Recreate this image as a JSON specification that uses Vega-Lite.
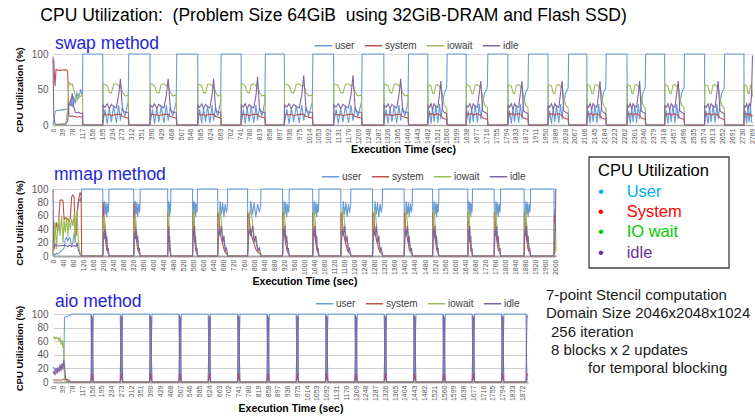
{
"$schema": "https://vega.github.io/schema/vega-lite/v6.json",
"background": "white",
"padding": {"left": 14, "top": 7, "right": 0, "bottom": 0},
"title": {"text": "CPU Utilization:\u00a0 (Problem Size 64GiB\u00a0 using 32GiB-DRAM and Flash SSD)", "anchor": "start", "frame": "bounds", "fontSize": 17.5, "fontWeight": "normal", "color": "#000000", "dx": 26, "offset": 10},
"config": {"view": {"stroke": null}, "font": "Liberation Sans"},
"resolve": {"scale": {"color": "independent"}, "legend": {"color": "independent"}},
"datasets": {
"swap": [
{"t":0,"user":0,"system":88,"iowait":0,"idle":96},
{"t":3,"user":6,"system":90,"iowait":0,"idle":12},
{"t":8,"user":18,"system":55,"iowait":0,"idle":2},
{"t":12,"user":20,"system":78,"iowait":0,"idle":1},
{"t":30,"user":21,"system":77,"iowait":1,"idle":1},
{"t":50,"user":22,"system":78,"iowait":2,"idle":1},
{"t":58,"user":23,"system":76,"iowait":20,"idle":5},
{"t":63,"user":30,"system":13,"iowait":60,"idle":30},
{"t":70,"user":35,"system":12,"iowait":57,"idle":28},
{"t":76,"user":25,"system":13,"iowait":58,"idle":45},
{"t":82,"user":40,"system":12,"iowait":50,"idle":26},
{"t":88,"user":30,"system":12,"iowait":42,"idle":18},
{"t":95,"user":45,"system":11,"iowait":35,"idle":17},
{"t":102,"user":38,"system":12,"iowait":43,"idle":18},
{"t":110,"user":50,"system":11,"iowait":40,"idle":16},
{"t":117,"user":40,"system":12,"iowait":42,"idle":17},
{"t":118,"user":100,"system":0,"iowait":0,"idle":0},
{"t":197,"user":100,"system":0,"iowait":0,"idle":0},
{"t":198,"user":3,"system":14,"iowait":58,"idle":28},
{"t":206,"user":22,"system":15,"iowait":57,"idle":25},
{"t":215,"user":2,"system":14,"iowait":55,"idle":30},
{"t":223,"user":24,"system":15,"iowait":46,"idle":23},
{"t":231,"user":4,"system":13,"iowait":45,"idle":29},
{"t":240,"user":27,"system":14,"iowait":57,"idle":26},
{"t":251,"user":3,"system":15,"iowait":58,"idle":24},
{"t":260,"user":28,"system":15,"iowait":55,"idle":42},
{"t":267,"user":6,"system":15,"iowait":56,"idle":65},
{"t":275,"user":25,"system":12,"iowait":46,"idle":21},
{"t":285,"user":12,"system":11,"iowait":41,"idle":18},
{"t":298,"user":33,"system":10,"iowait":42,"idle":18},
{"t":300,"user":100,"system":0,"iowait":0,"idle":0},
{"t":384,"user":100,"system":0,"iowait":0,"idle":0},
{"t":385,"user":3,"system":14,"iowait":58,"idle":28},
{"t":394,"user":22,"system":15,"iowait":57,"idle":25},
{"t":402,"user":2,"system":14,"iowait":55,"idle":30},
{"t":411,"user":24,"system":15,"iowait":46,"idle":23},
{"t":419,"user":4,"system":13,"iowait":45,"idle":29},
{"t":429,"user":27,"system":14,"iowait":57,"idle":26},
{"t":439,"user":3,"system":15,"iowait":58,"idle":24},
{"t":449,"user":28,"system":15,"iowait":55,"idle":42},
{"t":456,"user":6,"system":15,"iowait":56,"idle":65},
{"t":465,"user":25,"system":12,"iowait":46,"idle":21},
{"t":474,"user":12,"system":11,"iowait":41,"idle":18},
{"t":488,"user":33,"system":10,"iowait":42,"idle":18},
{"t":490,"user":100,"system":0,"iowait":0,"idle":0},
{"t":573,"user":100,"system":0,"iowait":0,"idle":0},
{"t":574,"user":3,"system":14,"iowait":58,"idle":28},
{"t":581,"user":22,"system":15,"iowait":57,"idle":25},
{"t":589,"user":2,"system":14,"iowait":55,"idle":30},
{"t":596,"user":24,"system":15,"iowait":46,"idle":23},
{"t":604,"user":4,"system":13,"iowait":45,"idle":29},
{"t":612,"user":27,"system":14,"iowait":57,"idle":26},
{"t":621,"user":3,"system":15,"iowait":58,"idle":24},
{"t":630,"user":28,"system":15,"iowait":55,"idle":42},
{"t":636,"user":6,"system":15,"iowait":56,"idle":65},
{"t":644,"user":25,"system":12,"iowait":46,"idle":21},
{"t":652,"user":12,"system":11,"iowait":41,"idle":18},
{"t":664,"user":33,"system":10,"iowait":42,"idle":18},
{"t":666,"user":100,"system":0,"iowait":0,"idle":0},
{"t":745,"user":100,"system":0,"iowait":0,"idle":0},
{"t":746,"user":3,"system":14,"iowait":58,"idle":28},
{"t":754,"user":22,"system":15,"iowait":57,"idle":25},
{"t":761,"user":2,"system":14,"iowait":55,"idle":30},
{"t":769,"user":24,"system":15,"iowait":46,"idle":23},
{"t":777,"user":4,"system":13,"iowait":45,"idle":29},
{"t":785,"user":27,"system":14,"iowait":57,"idle":26},
{"t":795,"user":3,"system":15,"iowait":58,"idle":24},
{"t":804,"user":28,"system":15,"iowait":55,"idle":42},
{"t":810,"user":6,"system":15,"iowait":56,"idle":68},
{"t":818,"user":25,"system":12,"iowait":46,"idle":21},
{"t":827,"user":12,"system":11,"iowait":41,"idle":18},
{"t":839,"user":33,"system":10,"iowait":42,"idle":18},
{"t":841,"user":100,"system":0,"iowait":0,"idle":0},
{"t":916,"user":100,"system":0,"iowait":0,"idle":0},
{"t":917,"user":3,"system":14,"iowait":58,"idle":28},
{"t":926,"user":22,"system":15,"iowait":57,"idle":25},
{"t":935,"user":2,"system":14,"iowait":55,"idle":30},
{"t":944,"user":24,"system":15,"iowait":46,"idle":23},
{"t":953,"user":4,"system":13,"iowait":45,"idle":29},
{"t":963,"user":27,"system":14,"iowait":57,"idle":26},
{"t":975,"user":3,"system":15,"iowait":58,"idle":24},
{"t":985,"user":28,"system":15,"iowait":55,"idle":42},
{"t":993,"user":6,"system":15,"iowait":56,"idle":70},
{"t":1002,"user":25,"system":12,"iowait":46,"idle":21},
{"t":1012,"user":12,"system":11,"iowait":41,"idle":18},
{"t":1027,"user":33,"system":10,"iowait":42,"idle":18},
{"t":1029,"user":100,"system":0,"iowait":0,"idle":0},
{"t":1111,"user":100,"system":0,"iowait":0,"idle":0},
{"t":1112,"user":3,"system":14,"iowait":58,"idle":28},
{"t":1121,"user":22,"system":15,"iowait":57,"idle":25},
{"t":1130,"user":2,"system":14,"iowait":55,"idle":30},
{"t":1139,"user":24,"system":15,"iowait":46,"idle":23},
{"t":1148,"user":4,"system":13,"iowait":45,"idle":29},
{"t":1158,"user":27,"system":14,"iowait":57,"idle":26},
{"t":1170,"user":3,"system":15,"iowait":58,"idle":24},
{"t":1180,"user":28,"system":15,"iowait":55,"idle":42},
{"t":1188,"user":6,"system":15,"iowait":56,"idle":70},
{"t":1197,"user":25,"system":12,"iowait":46,"idle":21},
{"t":1207,"user":12,"system":11,"iowait":41,"idle":18},
{"t":1222,"user":33,"system":10,"iowait":42,"idle":18},
{"t":1224,"user":100,"system":0,"iowait":0,"idle":0},
{"t":1310,"user":100,"system":0,"iowait":0,"idle":0},
{"t":1311,"user":3,"system":14,"iowait":58,"idle":28},
{"t":1319,"user":22,"system":15,"iowait":57,"idle":25},
{"t":1327,"user":2,"system":14,"iowait":55,"idle":30},
{"t":1335,"user":24,"system":15,"iowait":46,"idle":23},
{"t":1342,"user":4,"system":13,"iowait":45,"idle":29},
{"t":1351,"user":27,"system":14,"iowait":57,"idle":26},
{"t":1361,"user":3,"system":15,"iowait":58,"idle":24},
{"t":1370,"user":28,"system":15,"iowait":55,"idle":42},
{"t":1377,"user":6,"system":15,"iowait":56,"idle":65},
{"t":1384,"user":25,"system":12,"iowait":46,"idle":21},
{"t":1393,"user":12,"system":11,"iowait":41,"idle":18},
{"t":1406,"user":33,"system":10,"iowait":42,"idle":18},
{"t":1408,"user":100,"system":0,"iowait":0,"idle":0},
{"t":1484,"user":100,"system":0,"iowait":0,"idle":0},
{"t":1485,"user":3,"system":15,"iowait":57,"idle":27},
{"t":1491,"user":20,"system":16,"iowait":56,"idle":25},
{"t":1497,"user":2,"system":15,"iowait":55,"idle":30},
{"t":1503,"user":25,"system":16,"iowait":45,"idle":22},
{"t":1509,"user":4,"system":14,"iowait":44,"idle":30},
{"t":1516,"user":28,"system":15,"iowait":56,"idle":26},
{"t":1524,"user":3,"system":16,"iowait":57,"idle":25},
{"t":1531,"user":30,"system":14,"iowait":54,"idle":45},
{"t":1536,"user":8,"system":14,"iowait":55,"idle":62},
{"t":1543,"user":30,"system":10,"iowait":40,"idle":20},
{"t":1549,"user":45,"system":9,"iowait":28,"idle":18},
{"t":1559,"user":52,"system":8,"iowait":24,"idle":16},
{"t":1561,"user":100,"system":0,"iowait":0,"idle":0},
{"t":1636,"user":100,"system":0,"iowait":0,"idle":0},
{"t":1637,"user":3,"system":15,"iowait":57,"idle":27},
{"t":1644,"user":20,"system":16,"iowait":56,"idle":25},
{"t":1651,"user":2,"system":15,"iowait":55,"idle":30},
{"t":1658,"user":25,"system":16,"iowait":45,"idle":22},
{"t":1664,"user":4,"system":14,"iowait":44,"idle":30},
{"t":1672,"user":28,"system":15,"iowait":56,"idle":26},
{"t":1681,"user":3,"system":16,"iowait":57,"idle":25},
{"t":1688,"user":30,"system":14,"iowait":54,"idle":45},
{"t":1694,"user":8,"system":14,"iowait":55,"idle":62},
{"t":1701,"user":30,"system":10,"iowait":40,"idle":20},
{"t":1709,"user":45,"system":9,"iowait":28,"idle":18},
{"t":1720,"user":52,"system":8,"iowait":24,"idle":16},
{"t":1722,"user":100,"system":0,"iowait":0,"idle":0},
{"t":1801,"user":100,"system":0,"iowait":0,"idle":0},
{"t":1802,"user":3,"system":15,"iowait":57,"idle":27},
{"t":1808,"user":20,"system":16,"iowait":56,"idle":25},
{"t":1815,"user":2,"system":15,"iowait":55,"idle":30},
{"t":1822,"user":25,"system":16,"iowait":45,"idle":22},
{"t":1828,"user":4,"system":14,"iowait":44,"idle":30},
{"t":1835,"user":28,"system":15,"iowait":56,"idle":26},
{"t":1844,"user":3,"system":16,"iowait":57,"idle":25},
{"t":1851,"user":30,"system":14,"iowait":54,"idle":45},
{"t":1857,"user":8,"system":14,"iowait":55,"idle":62},
{"t":1863,"user":30,"system":10,"iowait":40,"idle":20},
{"t":1871,"user":45,"system":9,"iowait":28,"idle":18},
{"t":1881,"user":52,"system":8,"iowait":24,"idle":16},
{"t":1883,"user":100,"system":0,"iowait":0,"idle":0},
{"t":1960,"user":100,"system":0,"iowait":0,"idle":0},
{"t":1961,"user":3,"system":15,"iowait":57,"idle":27},
{"t":1967,"user":20,"system":16,"iowait":56,"idle":25},
{"t":1974,"user":2,"system":15,"iowait":55,"idle":30},
{"t":1981,"user":25,"system":16,"iowait":45,"idle":22},
{"t":1987,"user":4,"system":14,"iowait":44,"idle":30},
{"t":1994,"user":28,"system":15,"iowait":56,"idle":26},
{"t":2003,"user":3,"system":16,"iowait":57,"idle":25},
{"t":2010,"user":30,"system":14,"iowait":54,"idle":45},
{"t":2016,"user":8,"system":14,"iowait":55,"idle":62},
{"t":2022,"user":30,"system":10,"iowait":40,"idle":20},
{"t":2030,"user":45,"system":9,"iowait":28,"idle":18},
{"t":2040,"user":52,"system":8,"iowait":24,"idle":16},
{"t":2042,"user":100,"system":0,"iowait":0,"idle":0},
{"t":2114,"user":100,"system":0,"iowait":0,"idle":0},
{"t":2115,"user":3,"system":15,"iowait":57,"idle":27},
{"t":2121,"user":20,"system":16,"iowait":56,"idle":25},
{"t":2127,"user":2,"system":15,"iowait":55,"idle":30},
{"t":2133,"user":25,"system":16,"iowait":45,"idle":22},
{"t":2139,"user":4,"system":14,"iowait":44,"idle":30},
{"t":2146,"user":28,"system":15,"iowait":56,"idle":26},
{"t":2154,"user":3,"system":16,"iowait":57,"idle":25},
{"t":2161,"user":30,"system":14,"iowait":54,"idle":45},
{"t":2166,"user":8,"system":14,"iowait":55,"idle":62},
{"t":2173,"user":30,"system":10,"iowait":40,"idle":20},
{"t":2179,"user":45,"system":9,"iowait":28,"idle":18},
{"t":2189,"user":52,"system":8,"iowait":24,"idle":16},
{"t":2191,"user":100,"system":0,"iowait":0,"idle":0},
{"t":2273,"user":100,"system":0,"iowait":0,"idle":0},
{"t":2274,"user":3,"system":15,"iowait":57,"idle":27},
{"t":2280,"user":20,"system":16,"iowait":56,"idle":25},
{"t":2286,"user":2,"system":15,"iowait":55,"idle":30},
{"t":2292,"user":25,"system":16,"iowait":45,"idle":22},
{"t":2297,"user":4,"system":14,"iowait":44,"idle":30},
{"t":2304,"user":28,"system":15,"iowait":56,"idle":26},
{"t":2311,"user":3,"system":16,"iowait":57,"idle":25},
{"t":2318,"user":30,"system":14,"iowait":54,"idle":45},
{"t":2323,"user":8,"system":14,"iowait":55,"idle":62},
{"t":2329,"user":30,"system":10,"iowait":40,"idle":20},
{"t":2336,"user":45,"system":9,"iowait":28,"idle":18},
{"t":2345,"user":52,"system":8,"iowait":24,"idle":16},
{"t":2347,"user":100,"system":0,"iowait":0,"idle":0},
{"t":2422,"user":100,"system":0,"iowait":0,"idle":0},
{"t":2423,"user":3,"system":15,"iowait":57,"idle":27},
{"t":2429,"user":20,"system":16,"iowait":56,"idle":25},
{"t":2435,"user":2,"system":15,"iowait":55,"idle":30},
{"t":2442,"user":25,"system":16,"iowait":45,"idle":22},
{"t":2448,"user":4,"system":14,"iowait":44,"idle":30},
{"t":2455,"user":28,"system":15,"iowait":56,"idle":26},
{"t":2463,"user":3,"system":16,"iowait":57,"idle":25},
{"t":2470,"user":30,"system":14,"iowait":54,"idle":45},
{"t":2476,"user":8,"system":14,"iowait":55,"idle":62},
{"t":2482,"user":30,"system":10,"iowait":40,"idle":20},
{"t":2489,"user":45,"system":9,"iowait":28,"idle":18},
{"t":2499,"user":52,"system":8,"iowait":24,"idle":16},
{"t":2501,"user":100,"system":0,"iowait":0,"idle":0},
{"t":2580,"user":100,"system":0,"iowait":0,"idle":0},
{"t":2581,"user":3,"system":15,"iowait":57,"idle":27},
{"t":2587,"user":20,"system":16,"iowait":56,"idle":25},
{"t":2594,"user":2,"system":15,"iowait":55,"idle":30},
{"t":2600,"user":25,"system":16,"iowait":45,"idle":22},
{"t":2606,"user":4,"system":14,"iowait":44,"idle":30},
{"t":2614,"user":28,"system":15,"iowait":56,"idle":26},
{"t":2622,"user":3,"system":16,"iowait":57,"idle":25},
{"t":2629,"user":30,"system":14,"iowait":54,"idle":45},
{"t":2634,"user":8,"system":14,"iowait":55,"idle":62},
{"t":2641,"user":30,"system":10,"iowait":40,"idle":20},
{"t":2648,"user":45,"system":9,"iowait":28,"idle":18},
{"t":2658,"user":52,"system":8,"iowait":24,"idle":16},
{"t":2660,"user":100,"system":0,"iowait":0,"idle":0},
{"t":2736,"user":100,"system":0,"iowait":0,"idle":0},
{"t":2737,"user":3,"system":15,"iowait":57,"idle":27},
{"t":2742,"user":20,"system":16,"iowait":56,"idle":25},
{"t":2747,"user":2,"system":15,"iowait":55,"idle":30},
{"t":2752,"user":25,"system":16,"iowait":45,"idle":22},
{"t":2757,"user":4,"system":14,"iowait":44,"idle":30},
{"t":2762,"user":28,"system":15,"iowait":56,"idle":26},
{"t":2766,"user":5,"system":12,"iowait":55,"idle":40},
{"t":2770,"user":3,"system":14,"iowait":40,"idle":98}
],
"mmap": [
{"t":0,"user":0,"system":0,"iowait":0,"idle":100},
{"t":2,"user":0,"system":52,"iowait":55,"idle":30},
{"t":5,"user":3,"system":45,"iowait":20,"idle":10},
{"t":9,"user":2,"system":40,"iowait":50,"idle":17},
{"t":14,"user":4,"system":50,"iowait":10,"idle":16},
{"t":19,"user":3,"system":35,"iowait":45,"idle":15},
{"t":24,"user":5,"system":60,"iowait":55,"idle":15},
{"t":28,"user":6,"system":83,"iowait":30,"idle":16},
{"t":34,"user":8,"system":84,"iowait":60,"idle":15},
{"t":40,"user":10,"system":82,"iowait":20,"idle":16},
{"t":44,"user":12,"system":55,"iowait":55,"idle":15},
{"t":49,"user":25,"system":57,"iowait":35,"idle":16},
{"t":54,"user":28,"system":54,"iowait":58,"idle":15},
{"t":59,"user":22,"system":56,"iowait":30,"idle":14},
{"t":64,"user":28,"system":50,"iowait":55,"idle":16},
{"t":69,"user":25,"system":57,"iowait":40,"idle":15},
{"t":74,"user":15,"system":88,"iowait":55,"idle":14},
{"t":79,"user":20,"system":91,"iowait":45,"idle":15},
{"t":84,"user":35,"system":88,"iowait":62,"idle":16},
{"t":88,"user":20,"system":40,"iowait":20,"idle":15},
{"t":92,"user":40,"system":30,"iowait":55,"idle":14},
{"t":96,"user":60,"system":60,"iowait":70,"idle":20},
{"t":100,"user":78,"system":80,"iowait":30,"idle":10},
{"t":104,"user":82,"system":88,"iowait":10,"idle":5},
{"t":108,"user":85,"system":95,"iowait":5,"idle":2},
{"t":112,"user":80,"system":90,"iowait":3,"idle":1},
{"t":114,"user":100,"system":0,"iowait":0,"idle":0},
{"t":198,"user":100,"system":0,"iowait":0,"idle":0},
{"t":199,"user":3,"system":80,"iowait":15,"idle":10},
{"t":201,"user":45,"system":65,"iowait":55,"idle":35},
{"t":204,"user":82,"system":40,"iowait":60,"idle":25},
{"t":208,"user":62,"system":28,"iowait":45,"idle":40},
{"t":211,"user":80,"system":18,"iowait":30,"idle":20},
{"t":214,"user":58,"system":10,"iowait":22,"idle":30},
{"t":217,"user":78,"system":6,"iowait":12,"idle":8},
{"t":220,"user":65,"system":4,"iowait":6,"idle":12},
{"t":222,"user":75,"system":2,"iowait":3,"idle":3},
{"t":223,"user":100,"system":0,"iowait":0,"idle":0},
{"t":321,"user":100,"system":0,"iowait":0,"idle":0},
{"t":322,"user":3,"system":80,"iowait":15,"idle":10},
{"t":324,"user":45,"system":65,"iowait":55,"idle":35},
{"t":328,"user":82,"system":40,"iowait":60,"idle":25},
{"t":331,"user":62,"system":28,"iowait":45,"idle":40},
{"t":334,"user":80,"system":18,"iowait":30,"idle":20},
{"t":337,"user":58,"system":10,"iowait":22,"idle":30},
{"t":341,"user":78,"system":6,"iowait":12,"idle":8},
{"t":344,"user":65,"system":4,"iowait":6,"idle":12},
{"t":346,"user":75,"system":2,"iowait":3,"idle":3},
{"t":347,"user":100,"system":0,"iowait":0,"idle":0},
{"t":456,"user":100,"system":0,"iowait":0,"idle":0},
{"t":457,"user":3,"system":65,"iowait":20,"idle":12},
{"t":458,"user":45,"system":55,"iowait":60,"idle":40},
{"t":459,"user":82,"system":35,"iowait":70,"idle":30},
{"t":461,"user":62,"system":25,"iowait":50,"idle":45},
{"t":462,"user":80,"system":18,"iowait":30,"idle":20},
{"t":464,"user":58,"system":10,"iowait":22,"idle":30},
{"t":466,"user":78,"system":6,"iowait":12,"idle":8},
{"t":467,"user":65,"system":4,"iowait":6,"idle":12},
{"t":468,"user":75,"system":2,"iowait":3,"idle":3},
{"t":469,"user":100,"system":0,"iowait":0,"idle":0},
{"t":555,"user":100,"system":0,"iowait":0,"idle":0},
{"t":556,"user":3,"system":65,"iowait":20,"idle":12},
{"t":557,"user":45,"system":55,"iowait":60,"idle":40},
{"t":560,"user":82,"system":35,"iowait":70,"idle":30},
{"t":563,"user":62,"system":25,"iowait":50,"idle":45},
{"t":565,"user":80,"system":18,"iowait":30,"idle":20},
{"t":567,"user":58,"system":10,"iowait":22,"idle":30},
{"t":570,"user":78,"system":6,"iowait":12,"idle":8},
{"t":573,"user":65,"system":4,"iowait":6,"idle":12},
{"t":574,"user":75,"system":2,"iowait":3,"idle":3},
{"t":575,"user":100,"system":0,"iowait":0,"idle":0},
{"t":655,"user":100,"system":0,"iowait":0,"idle":0},
{"t":656,"user":3,"system":65,"iowait":20,"idle":12},
{"t":660,"user":45,"system":55,"iowait":60,"idle":40},
{"t":665,"user":82,"system":35,"iowait":70,"idle":30},
{"t":670,"user":62,"system":25,"iowait":50,"idle":45},
{"t":675,"user":80,"system":18,"iowait":30,"idle":20},
{"t":680,"user":58,"system":10,"iowait":22,"idle":30},
{"t":685,"user":78,"system":6,"iowait":12,"idle":8},
{"t":690,"user":65,"system":4,"iowait":6,"idle":12},
{"t":694,"user":75,"system":2,"iowait":3,"idle":3},
{"t":695,"user":100,"system":0,"iowait":0,"idle":0},
{"t":774,"user":100,"system":0,"iowait":0,"idle":0},
{"t":775,"user":3,"system":65,"iowait":20,"idle":12},
{"t":780,"user":45,"system":55,"iowait":60,"idle":40},
{"t":787,"user":82,"system":35,"iowait":70,"idle":30},
{"t":794,"user":62,"system":25,"iowait":50,"idle":45},
{"t":800,"user":80,"system":18,"iowait":30,"idle":20},
{"t":807,"user":58,"system":10,"iowait":22,"idle":30},
{"t":814,"user":78,"system":6,"iowait":12,"idle":8},
{"t":821,"user":65,"system":4,"iowait":6,"idle":12},
{"t":826,"user":75,"system":2,"iowait":3,"idle":3},
{"t":827,"user":100,"system":0,"iowait":0,"idle":0},
{"t":913,"user":100,"system":0,"iowait":0,"idle":0},
{"t":914,"user":3,"system":65,"iowait":20,"idle":12},
{"t":916,"user":45,"system":55,"iowait":60,"idle":40},
{"t":920,"user":82,"system":35,"iowait":70,"idle":30},
{"t":923,"user":62,"system":25,"iowait":50,"idle":45},
{"t":926,"user":80,"system":18,"iowait":30,"idle":20},
{"t":930,"user":58,"system":10,"iowait":22,"idle":30},
{"t":933,"user":78,"system":6,"iowait":12,"idle":8},
{"t":937,"user":65,"system":4,"iowait":6,"idle":12},
{"t":939,"user":75,"system":2,"iowait":3,"idle":3},
{"t":940,"user":100,"system":0,"iowait":0,"idle":0},
{"t":1033,"user":100,"system":0,"iowait":0,"idle":0},
{"t":1034,"user":3,"system":65,"iowait":20,"idle":12},
{"t":1036,"user":45,"system":55,"iowait":60,"idle":40},
{"t":1039,"user":82,"system":35,"iowait":70,"idle":30},
{"t":1043,"user":62,"system":25,"iowait":50,"idle":45},
{"t":1046,"user":80,"system":18,"iowait":30,"idle":20},
{"t":1049,"user":58,"system":10,"iowait":22,"idle":30},
{"t":1052,"user":78,"system":6,"iowait":12,"idle":8},
{"t":1055,"user":65,"system":4,"iowait":6,"idle":12},
{"t":1057,"user":75,"system":2,"iowait":3,"idle":3},
{"t":1058,"user":100,"system":0,"iowait":0,"idle":0},
{"t":1145,"user":100,"system":0,"iowait":0,"idle":0},
{"t":1146,"user":3,"system":65,"iowait":20,"idle":12},
{"t":1150,"user":45,"system":55,"iowait":60,"idle":40},
{"t":1155,"user":82,"system":35,"iowait":70,"idle":30},
{"t":1160,"user":62,"system":25,"iowait":50,"idle":45},
{"t":1165,"user":80,"system":18,"iowait":30,"idle":20},
{"t":1170,"user":58,"system":10,"iowait":22,"idle":30},
{"t":1175,"user":78,"system":6,"iowait":12,"idle":8},
{"t":1180,"user":65,"system":4,"iowait":6,"idle":12},
{"t":1184,"user":75,"system":2,"iowait":3,"idle":3},
{"t":1185,"user":100,"system":0,"iowait":0,"idle":0},
{"t":1271,"user":100,"system":0,"iowait":0,"idle":0},
{"t":1272,"user":3,"system":65,"iowait":20,"idle":12},
{"t":1276,"user":45,"system":55,"iowait":60,"idle":40},
{"t":1281,"user":82,"system":35,"iowait":70,"idle":30},
{"t":1286,"user":62,"system":25,"iowait":50,"idle":45},
{"t":1291,"user":80,"system":18,"iowait":30,"idle":20},
{"t":1296,"user":58,"system":10,"iowait":22,"idle":30},
{"t":1301,"user":78,"system":6,"iowait":12,"idle":8},
{"t":1306,"user":65,"system":4,"iowait":6,"idle":12},
{"t":1310,"user":75,"system":2,"iowait":3,"idle":3},
{"t":1311,"user":100,"system":0,"iowait":0,"idle":0},
{"t":1397,"user":100,"system":0,"iowait":0,"idle":0},
{"t":1398,"user":3,"system":65,"iowait":20,"idle":12},
{"t":1401,"user":45,"system":55,"iowait":60,"idle":40},
{"t":1405,"user":82,"system":35,"iowait":70,"idle":30},
{"t":1410,"user":62,"system":25,"iowait":50,"idle":45},
{"t":1414,"user":80,"system":18,"iowait":30,"idle":20},
{"t":1417,"user":58,"system":10,"iowait":22,"idle":30},
{"t":1422,"user":78,"system":6,"iowait":12,"idle":8},
{"t":1426,"user":65,"system":4,"iowait":6,"idle":12},
{"t":1429,"user":75,"system":2,"iowait":3,"idle":3},
{"t":1430,"user":100,"system":0,"iowait":0,"idle":0},
{"t":1510,"user":100,"system":0,"iowait":0,"idle":0},
{"t":1511,"user":3,"system":65,"iowait":20,"idle":12},
{"t":1513,"user":45,"system":55,"iowait":60,"idle":40},
{"t":1516,"user":82,"system":35,"iowait":70,"idle":30},
{"t":1520,"user":62,"system":25,"iowait":50,"idle":45},
{"t":1523,"user":80,"system":18,"iowait":30,"idle":20},
{"t":1526,"user":58,"system":10,"iowait":22,"idle":30},
{"t":1529,"user":78,"system":6,"iowait":12,"idle":8},
{"t":1532,"user":65,"system":4,"iowait":6,"idle":12},
{"t":1534,"user":75,"system":2,"iowait":3,"idle":3},
{"t":1535,"user":100,"system":0,"iowait":0,"idle":0},
{"t":1650,"user":100,"system":0,"iowait":0,"idle":0},
{"t":1651,"user":3,"system":65,"iowait":20,"idle":12},
{"t":1652,"user":45,"system":55,"iowait":60,"idle":40},
{"t":1655,"user":82,"system":35,"iowait":70,"idle":30},
{"t":1657,"user":62,"system":25,"iowait":50,"idle":45},
{"t":1660,"user":80,"system":18,"iowait":30,"idle":20},
{"t":1662,"user":58,"system":10,"iowait":22,"idle":30},
{"t":1664,"user":78,"system":6,"iowait":12,"idle":8},
{"t":1667,"user":65,"system":4,"iowait":6,"idle":12},
{"t":1668,"user":75,"system":2,"iowait":3,"idle":3},
{"t":1669,"user":100,"system":0,"iowait":0,"idle":0},
{"t":1755,"user":100,"system":0,"iowait":0,"idle":0},
{"t":1756,"user":3,"system":65,"iowait":20,"idle":12},
{"t":1758,"user":45,"system":55,"iowait":60,"idle":40},
{"t":1762,"user":82,"system":35,"iowait":70,"idle":30},
{"t":1765,"user":62,"system":25,"iowait":50,"idle":45},
{"t":1768,"user":80,"system":18,"iowait":30,"idle":20},
{"t":1771,"user":58,"system":10,"iowait":22,"idle":30},
{"t":1775,"user":78,"system":6,"iowait":12,"idle":8},
{"t":1778,"user":65,"system":4,"iowait":6,"idle":12},
{"t":1780,"user":75,"system":2,"iowait":3,"idle":3},
{"t":1781,"user":100,"system":0,"iowait":0,"idle":0},
{"t":1874,"user":100,"system":0,"iowait":0,"idle":0},
{"t":1875,"user":3,"system":65,"iowait":20,"idle":12},
{"t":1877,"user":45,"system":55,"iowait":60,"idle":40},
{"t":1881,"user":82,"system":35,"iowait":70,"idle":30},
{"t":1884,"user":62,"system":25,"iowait":50,"idle":45},
{"t":1887,"user":80,"system":18,"iowait":30,"idle":20},
{"t":1890,"user":58,"system":10,"iowait":22,"idle":30},
{"t":1894,"user":78,"system":6,"iowait":12,"idle":8},
{"t":1897,"user":65,"system":4,"iowait":6,"idle":12},
{"t":1899,"user":75,"system":2,"iowait":3,"idle":3},
{"t":1900,"user":100,"system":0,"iowait":0,"idle":0},
{"t":1993,"user":100,"system":0,"iowait":0,"idle":0},
{"t":1994,"user":3,"system":60,"iowait":15,"idle":10},
{"t":1996,"user":40,"system":50,"iowait":45,"idle":30},
{"t":1998,"user":70,"system":30,"iowait":50,"idle":40},
{"t":2000,"user":20,"system":10,"iowait":5,"idle":100}
],
"aio": [
{"t":0,"user":22,"system":3,"iowait":65,"idle":12},
{"t":4,"user":20,"system":3,"iowait":66,"idle":16},
{"t":8,"user":18,"system":3,"iowait":63,"idle":10},
{"t":12,"user":20,"system":3,"iowait":66,"idle":20},
{"t":16,"user":19,"system":3,"iowait":64,"idle":12},
{"t":20,"user":20,"system":3,"iowait":65,"idle":22},
{"t":24,"user":18,"system":3,"iowait":60,"idle":14},
{"t":28,"user":20,"system":3,"iowait":66,"idle":26},
{"t":32,"user":22,"system":3,"iowait":55,"idle":16},
{"t":36,"user":21,"system":3,"iowait":62,"idle":28},
{"t":40,"user":25,"system":4,"iowait":50,"idle":18},
{"t":43,"user":30,"system":4,"iowait":58,"idle":32},
{"t":46,"user":95,"system":5,"iowait":3,"idle":25},
{"t":50,"user":96,"system":4,"iowait":0,"idle":5},
{"t":56,"user":96,"system":4,"iowait":0,"idle":2},
{"t":62,"user":97,"system":3,"iowait":0,"idle":0},
{"t":68,"user":98,"system":1,"iowait":0,"idle":0},
{"t":74,"user":100,"system":0,"iowait":0,"idle":0},
{"t":151,"user":100,"system":0,"iowait":0,"idle":0},
{"t":153,"user":60,"system":6,"iowait":0,"idle":40},
{"t":154,"user":2,"system":12,"iowait":0,"idle":98},
{"t":156,"user":20,"system":8,"iowait":0,"idle":75},
{"t":158,"user":3,"system":10,"iowait":0,"idle":96},
{"t":159,"user":70,"system":4,"iowait":0,"idle":30},
{"t":161,"user":100,"system":0,"iowait":0,"idle":0},
{"t":268,"user":100,"system":0,"iowait":0,"idle":0},
{"t":270,"user":60,"system":6,"iowait":0,"idle":40},
{"t":271,"user":2,"system":12,"iowait":0,"idle":98},
{"t":273,"user":20,"system":8,"iowait":0,"idle":75},
{"t":275,"user":3,"system":10,"iowait":0,"idle":96},
{"t":276,"user":70,"system":4,"iowait":0,"idle":30},
{"t":278,"user":100,"system":0,"iowait":0,"idle":0},
{"t":385,"user":100,"system":0,"iowait":0,"idle":0},
{"t":387,"user":60,"system":6,"iowait":0,"idle":40},
{"t":388,"user":2,"system":12,"iowait":0,"idle":98},
{"t":390,"user":20,"system":8,"iowait":0,"idle":75},
{"t":392,"user":3,"system":10,"iowait":0,"idle":96},
{"t":393,"user":70,"system":4,"iowait":0,"idle":30},
{"t":395,"user":100,"system":0,"iowait":0,"idle":0},
{"t":502,"user":100,"system":0,"iowait":0,"idle":0},
{"t":504,"user":60,"system":6,"iowait":0,"idle":40},
{"t":505,"user":2,"system":12,"iowait":0,"idle":98},
{"t":507,"user":20,"system":8,"iowait":0,"idle":75},
{"t":509,"user":3,"system":10,"iowait":0,"idle":96},
{"t":510,"user":70,"system":4,"iowait":0,"idle":30},
{"t":512,"user":100,"system":0,"iowait":0,"idle":0},
{"t":619,"user":100,"system":0,"iowait":0,"idle":0},
{"t":621,"user":60,"system":6,"iowait":0,"idle":40},
{"t":622,"user":2,"system":12,"iowait":0,"idle":98},
{"t":624,"user":20,"system":8,"iowait":0,"idle":75},
{"t":626,"user":3,"system":10,"iowait":0,"idle":96},
{"t":627,"user":70,"system":4,"iowait":0,"idle":30},
{"t":629,"user":100,"system":0,"iowait":0,"idle":0},
{"t":736,"user":100,"system":0,"iowait":0,"idle":0},
{"t":738,"user":60,"system":6,"iowait":0,"idle":40},
{"t":739,"user":2,"system":12,"iowait":0,"idle":98},
{"t":741,"user":20,"system":8,"iowait":0,"idle":75},
{"t":743,"user":3,"system":10,"iowait":0,"idle":96},
{"t":744,"user":70,"system":4,"iowait":0,"idle":30},
{"t":746,"user":100,"system":0,"iowait":0,"idle":0},
{"t":853,"user":100,"system":0,"iowait":0,"idle":0},
{"t":855,"user":60,"system":6,"iowait":0,"idle":40},
{"t":856,"user":2,"system":12,"iowait":0,"idle":98},
{"t":858,"user":20,"system":8,"iowait":0,"idle":75},
{"t":860,"user":3,"system":10,"iowait":0,"idle":96},
{"t":861,"user":70,"system":4,"iowait":0,"idle":30},
{"t":863,"user":100,"system":0,"iowait":0,"idle":0},
{"t":970,"user":100,"system":0,"iowait":0,"idle":0},
{"t":972,"user":60,"system":6,"iowait":0,"idle":40},
{"t":973,"user":2,"system":12,"iowait":0,"idle":98},
{"t":975,"user":20,"system":8,"iowait":0,"idle":75},
{"t":977,"user":3,"system":10,"iowait":0,"idle":96},
{"t":978,"user":70,"system":4,"iowait":0,"idle":30},
{"t":980,"user":100,"system":0,"iowait":0,"idle":0},
{"t":1087,"user":100,"system":0,"iowait":0,"idle":0},
{"t":1089,"user":60,"system":6,"iowait":0,"idle":40},
{"t":1090,"user":2,"system":12,"iowait":0,"idle":98},
{"t":1092,"user":20,"system":8,"iowait":0,"idle":75},
{"t":1094,"user":3,"system":10,"iowait":0,"idle":96},
{"t":1095,"user":70,"system":4,"iowait":0,"idle":30},
{"t":1097,"user":100,"system":0,"iowait":0,"idle":0},
{"t":1204,"user":100,"system":0,"iowait":0,"idle":0},
{"t":1206,"user":60,"system":6,"iowait":0,"idle":40},
{"t":1207,"user":2,"system":12,"iowait":0,"idle":98},
{"t":1209,"user":20,"system":8,"iowait":0,"idle":75},
{"t":1211,"user":3,"system":10,"iowait":0,"idle":96},
{"t":1212,"user":70,"system":4,"iowait":0,"idle":30},
{"t":1214,"user":100,"system":0,"iowait":0,"idle":0},
{"t":1321,"user":100,"system":0,"iowait":0,"idle":0},
{"t":1323,"user":60,"system":6,"iowait":0,"idle":40},
{"t":1324,"user":2,"system":12,"iowait":0,"idle":98},
{"t":1326,"user":20,"system":8,"iowait":0,"idle":75},
{"t":1328,"user":3,"system":10,"iowait":0,"idle":96},
{"t":1329,"user":70,"system":4,"iowait":0,"idle":30},
{"t":1331,"user":100,"system":0,"iowait":0,"idle":0},
{"t":1438,"user":100,"system":0,"iowait":0,"idle":0},
{"t":1440,"user":60,"system":6,"iowait":0,"idle":40},
{"t":1441,"user":2,"system":12,"iowait":0,"idle":98},
{"t":1443,"user":20,"system":8,"iowait":0,"idle":75},
{"t":1445,"user":3,"system":10,"iowait":0,"idle":96},
{"t":1446,"user":70,"system":4,"iowait":0,"idle":30},
{"t":1448,"user":100,"system":0,"iowait":0,"idle":0},
{"t":1555,"user":100,"system":0,"iowait":0,"idle":0},
{"t":1557,"user":60,"system":6,"iowait":0,"idle":40},
{"t":1558,"user":2,"system":12,"iowait":0,"idle":98},
{"t":1560,"user":20,"system":8,"iowait":0,"idle":75},
{"t":1562,"user":3,"system":10,"iowait":0,"idle":96},
{"t":1563,"user":70,"system":4,"iowait":0,"idle":30},
{"t":1565,"user":100,"system":0,"iowait":0,"idle":0},
{"t":1672,"user":100,"system":0,"iowait":0,"idle":0},
{"t":1674,"user":60,"system":6,"iowait":0,"idle":40},
{"t":1675,"user":2,"system":12,"iowait":0,"idle":98},
{"t":1677,"user":20,"system":8,"iowait":0,"idle":75},
{"t":1679,"user":3,"system":10,"iowait":0,"idle":96},
{"t":1680,"user":70,"system":4,"iowait":0,"idle":30},
{"t":1682,"user":100,"system":0,"iowait":0,"idle":0},
{"t":1789,"user":100,"system":0,"iowait":0,"idle":0},
{"t":1791,"user":60,"system":6,"iowait":0,"idle":40},
{"t":1792,"user":2,"system":12,"iowait":0,"idle":98},
{"t":1794,"user":20,"system":8,"iowait":0,"idle":75},
{"t":1796,"user":3,"system":10,"iowait":0,"idle":96},
{"t":1797,"user":70,"system":4,"iowait":0,"idle":30},
{"t":1799,"user":100,"system":0,"iowait":0,"idle":0},
{"t":1887,"user":100,"system":0,"iowait":0,"idle":0},
{"t":1889,"user":40,"system":6,"iowait":0,"idle":60},
{"t":1891,"user":3,"system":12,"iowait":0,"idle":98},
{"t":1894,"user":5,"system":10,"iowait":0,"idle":95}
]
},
"spacing": 0,
"vconcat": [
{
"width": 700, "height": 71,
"title": {"text": "swap method", "anchor": "start", "frame": "group", "fontSize": 17.5, "fontWeight": "normal", "color": "#2424D8", "offset": -16, "dx": 2},
"data": {"name": "swap"},
"transform": [{"fold": ["user", "system", "iowait", "idle"], "as": ["series", "value"]}],
"mark": {"type": "line", "strokeWidth": 1.1},
"encoding": {
"x": {"field": "t", "type": "quantitative", "scale": {"domain": [0, 2772], "nice": false, "zero": false},
 "axis": {"values": [0,39,78,117,156,195,234,273,312,351,390,429,468,507,546,585,624,663,702,741,780,819,858,897,936,975,1014,1053,1092,1131,1170,1209,1248,1287,1326,1365,1404,1443,1482,1521,1560,1599,1638,1677,1716,1755,1794,1833,1872,1911,1950,1989,2028,2067,2106,2145,2184,2223,2262,2301,2340,2379,2418,2457,2496,2535,2574,2613,2652,2691,2730,2769],
 "format": "d", "labelAngle": -90, "labelFontSize": 7, "labelColor": "#595959", "labelOverlap": false, "labelFlush": false, "labelPadding": 3, "ticks": false, "grid": false, "domainColor": "#A6A6A6", "domainWidth": 1.5,
 "title": "Execution Time (sec)", "titleFontSize": 10.5, "titleFontWeight": "bold", "titleColor": "#000000", "titlePadding": 1}},
"y": {"field": "value", "type": "quantitative", "scale": {"domain": [0, 100], "nice": false},
 "axis": {"values": [0, 50, 100], "title": "CPU Utilization (%)", "titleFontSize": 9.5, "titleFontWeight": "bold", "titleColor": "#000000", "titlePadding": 7, "labelFontSize": 10, "labelColor": "#595959", "labelPadding": 5, "domain": false, "ticks": false, "gridColor": "#D9D9D9"}},
"color": {"field": "series", "type": "nominal", "scale": {"domain": ["user", "system", "iowait", "idle"], "range": ["#6A9BD9", "#C0504D", "#9BBB59", "#8064A2"]},
 "legend": {"orient": "none", "legendX": 261, "legendY": -18, "direction": "horizontal", "title": null, "symbolType": "stroke", "symbolSize": 300, "symbolStrokeWidth": 1.5, "labelFontSize": 10, "labelColor": "#404040", "columnPadding": 6, "labelOffset": 2}}
}
},
{
"hconcat": [
{
"width": 503, "height": 67,
"title": {"text": "mmap method", "anchor": "start", "frame": "group", "fontSize": 17.5, "fontWeight": "normal", "color": "#2424D8", "offset": -16, "dx": 1},
"data": {"name": "mmap"},
"transform": [{"fold": ["user", "system", "iowait", "idle"], "as": ["series", "value"]}],
"mark": {"type": "line", "strokeWidth": 1.1},
"encoding": {
"x": {"field": "t", "type": "quantitative", "scale": {"domain": [0, 2001], "nice": false, "zero": false},
 "axis": {"values": [0,40,80,120,160,200,240,280,320,360,400,440,480,520,560,600,640,680,720,760,800,840,880,920,960,1000,1040,1080,1120,1160,1200,1240,1280,1320,1360,1400,1440,1480,1520,1560,1600,1640,1680,1720,1760,1800,1840,1880,1920,1960,2000],
 "format": "d", "labelAngle": -90, "labelFontSize": 7, "labelColor": "#595959", "labelOverlap": false, "labelFlush": false, "labelPadding": 3, "ticks": false, "grid": false, "domainColor": "#A6A6A6", "domainWidth": 2,
 "title": "Execution Time (sec)", "titleFontSize": 10.5, "titleFontWeight": "bold", "titleColor": "#000000", "titlePadding": 2}},
"y": {"field": "value", "type": "quantitative", "scale": {"domain": [0, 100], "nice": false},
 "axis": {"values": [0, 20, 40, 60, 80, 100], "title": "CPU Utilization (%)", "titleFontSize": 9.5, "titleFontWeight": "bold", "titleColor": "#000000", "titlePadding": 7, "labelFontSize": 10, "labelColor": "#595959", "labelPadding": 5, "domain": false, "ticks": false, "gridColor": "#CFCFCF"}},
"color": {"field": "series", "type": "nominal", "scale": {"domain": ["user", "system", "iowait", "idle"], "range": ["#6A9BD9", "#C0504D", "#9BBB59", "#8064A2"]},
 "legend": {"orient": "none", "legendX": 268, "legendY": -22, "direction": "horizontal", "title": null, "symbolType": "stroke", "symbolSize": 300, "symbolStrokeWidth": 1.5, "labelFontSize": 10, "labelColor": "#404040", "columnPadding": 6, "labelOffset": 2}}
}
},
{
"width": 140, "height": 79,
"layer": [
{
"data": {"values": [{}]},
"mark": {"type": "rect", "fillOpacity": 0, "stroke": "#404040", "strokeWidth": 1.3},
"encoding": {
 "y": {"datum": -0.683, "type": "quantitative", "scale": {"domain": [0.878, 4.732], "reverse": true, "nice": false, "zero": false}, "axis": null},
 "y2": {"datum": 4.732}
}
},
{
"data": {"values": [
 {"row": 0, "text": "CPU Utilization", "item": "head"},
 {"row": 1, "text": "•\u00a0\u00a0\u00a0\u00a0\u00a0User", "item": "User"},
 {"row": 2, "text": "•\u00a0\u00a0\u00a0\u00a0\u00a0System", "item": "System"},
 {"row": 3, "text": "•\u00a0\u00a0\u00a0\u00a0\u00a0IO wait", "item": "IO wait"},
 {"row": 4, "text": "•\u00a0\u00a0\u00a0\u00a0\u00a0idle", "item": "idle"}
]},
"mark": {"type": "text", "align": "left", "baseline": "middle", "fontSize": 16.5},
"encoding": {
 "y": {"field": "row", "type": "quantitative", "axis": null},
 "x": {"value": 9},
 "text": {"field": "text"},
 "color": {"field": "item", "type": "nominal", "scale": {"domain": ["head", "User", "System", "IO wait", "idle"], "range": ["#000000", "#00B0F0", "#FF0000", "#00CC00", "#7030A0"]}, "legend": null}
}
}
]
}
],
"spacing": 29,
"resolve": {"scale": {"color": "independent"}, "legend": {"color": "independent"}}
},
{
"hconcat": [
{
"width": 475, "height": 68,
"title": {"text": "aio method", "anchor": "start", "frame": "group", "fontSize": 17.5, "fontWeight": "normal", "color": "#2424D8", "offset": -16, "dx": 2},
"data": {"name": "aio"},
"transform": [{"fold": ["user", "system", "iowait", "idle"], "as": ["series", "value"]}],
"mark": {"type": "line", "strokeWidth": 1.1},
"encoding": {
"x": {"field": "t", "type": "quantitative", "scale": {"domain": [0, 1895], "nice": false, "zero": false},
 "axis": {"values": [0,39,78,117,156,195,234,273,312,351,390,429,468,507,546,585,624,663,702,741,780,819,858,897,936,975,1014,1053,1092,1131,1170,1209,1248,1287,1326,1365,1404,1443,1482,1521,1560,1599,1638,1677,1716,1755,1794,1833,1872],
 "format": "d", "labelAngle": -90, "labelFontSize": 7, "labelColor": "#595959", "labelOverlap": false, "labelFlush": false, "labelPadding": 3, "ticks": false, "grid": false, "domainColor": "#A6A6A6", "domainWidth": 2,
 "title": "Execution Time (sec)", "titleFontSize": 10.5, "titleFontWeight": "bold", "titleColor": "#000000", "titlePadding": 3}},
"y": {"field": "value", "type": "quantitative", "scale": {"domain": [0, 100], "nice": false},
 "axis": {"values": [0, 20, 40, 60, 80, 100], "title": "CPU Utilization (%)", "titleFontSize": 9.5, "titleFontWeight": "bold", "titleColor": "#000000", "titlePadding": 7, "labelFontSize": 10, "labelColor": "#595959", "labelPadding": 5, "domain": false, "ticks": false, "gridColor": "#CFCFCF"}},
"color": {"field": "series", "type": "nominal", "scale": {"domain": ["user", "system", "iowait", "idle"], "range": ["#6A9BD9", "#C0504D", "#9BBB59", "#8064A2"]},
 "legend": {"orient": "none", "legendX": 262, "legendY": -20, "direction": "horizontal", "title": null, "symbolType": "stroke", "symbolSize": 300, "symbolStrokeWidth": 1.5, "labelFontSize": 10, "labelColor": "#404040", "columnPadding": 6, "labelOffset": 2}}
}
},
{
"width": 205, "height": 68,
"data": {"values": [
 {"line": 1, "text": "7-point Stencil computation"},
 {"line": 2, "text": "Domain Size 2046x2048x1024"},
 {"line": 3, "text": "256 iteration"},
 {"line": 4, "text": "8 blocks x 2 updates"},
 {"line": 5, "text": "for temporal blocking"}
]},
"encoding": {
 "y": {"field": "line", "type": "quantitative", "scale": {"domain": [2.041, 5.767], "reverse": true, "nice": false, "zero": false}, "axis": null},
 "x": {"value": 0},
 "text": {"field": "text"}
},
"layer": [
{"transform": [{"filter": "datum.line <= 2"}], "mark": {"type": "text", "align": "left", "baseline": "middle", "fontSize": 15, "color": "#1A1A1A"}},
{"transform": [{"filter": "datum.line == 3 || datum.line == 4"}], "mark": {"type": "text", "align": "left", "baseline": "middle", "fontSize": 15, "color": "#1A1A1A", "dx": 5}},
{"transform": [{"filter": "datum.line == 5"}], "mark": {"type": "text", "align": "left", "baseline": "middle", "fontSize": 15, "color": "#1A1A1A", "dx": 42}}
]
}
],
"spacing": 16,
"resolve": {"scale": {"color": "independent"}, "legend": {"color": "independent"}}
}
]
}
